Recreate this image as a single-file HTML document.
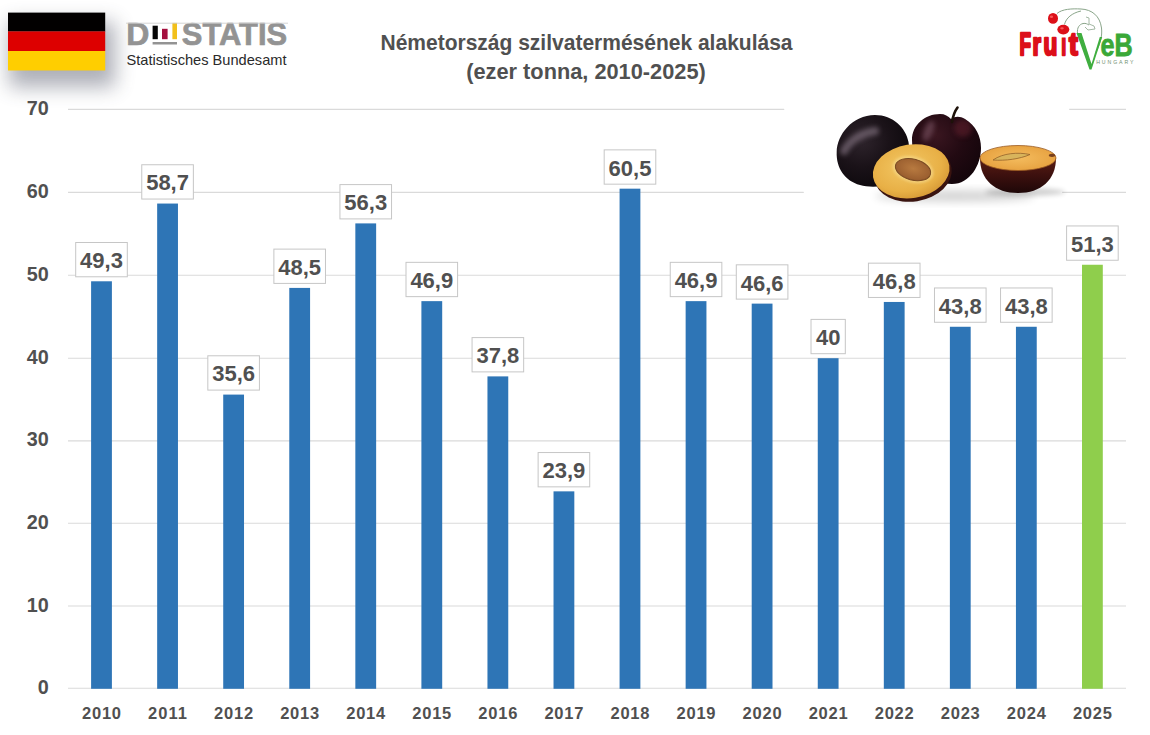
<!DOCTYPE html>
<html><head><meta charset="utf-8"><title>Németország szilvatermésének alakulása</title>
<style>
html,body{margin:0;padding:0;background:#fff;width:1150px;height:735px;overflow:hidden}
svg{display:block}
.yl{font-family:"Liberation Sans",sans-serif;font-weight:bold;font-size:19.8px;fill:#505050;text-anchor:end}
.xl{font-family:"Liberation Sans",sans-serif;font-weight:bold;font-size:16.5px;fill:#505050;text-anchor:middle}
.dl{font-family:"Liberation Sans",sans-serif;font-weight:bold;font-size:22px;fill:#505050;text-anchor:middle}
.ttl{font-family:"Liberation Sans",sans-serif;font-weight:bold;font-size:22.5px;fill:#505050;text-anchor:middle}
</style></head><body>
<svg width="1150" height="735" viewBox="0 0 1150 735">
<defs>
<filter id="fsh" x="-50%" y="-50%" width="200%" height="200%"><feGaussianBlur stdDeviation="10"/></filter>
<filter id="b1" x="-50%" y="-50%" width="200%" height="200%"><feGaussianBlur stdDeviation="1"/></filter>
<filter id="b2" x="-50%" y="-50%" width="200%" height="200%"><feGaussianBlur stdDeviation="2.5"/></filter>
<filter id="b4" x="-50%" y="-50%" width="200%" height="200%"><feGaussianBlur stdDeviation="4"/></filter>
<clipPath id="cA"><path d="M875,115 C893,115 906,128 908.5,142 C911,158 905,175 890,183 C880,188 868,187 860,185 C845,181 836,168 836.7,152 C837,135 852,115 875,115 Z"/></clipPath>
<clipPath id="cB"><path d="M912,140 C912,125 925,114 940,114 C945,114 948,116 951,119 C955,116 960,116 965,119 C976,126 981,136 981,148 C981,165 970,184 952,184 C930,184 912,165 912,140 Z"/></clipPath>
<radialGradient id="gA" cx="0.35" cy="0.35" r="0.75">
 <stop offset="0" stop-color="#2e242c"/><stop offset="0.5" stop-color="#1a1218"/><stop offset="1" stop-color="#0b070b"/>
</radialGradient>
<radialGradient id="gB" cx="0.35" cy="0.3" r="0.8">
 <stop offset="0" stop-color="#3a1620"/><stop offset="0.5" stop-color="#220a12"/><stop offset="1" stop-color="#12050a"/>
</radialGradient>
<radialGradient id="gC" cx="0.45" cy="0.4" r="0.65">
 <stop offset="0" stop-color="#f3c865"/><stop offset="0.7" stop-color="#e8b046"/><stop offset="1" stop-color="#d49634"/>
</radialGradient>
<radialGradient id="gPit" cx="0.5" cy="0.45" r="0.6">
 <stop offset="0" stop-color="#b87a40"/><stop offset="0.8" stop-color="#9c6030"/><stop offset="1" stop-color="#7a4622"/>
</radialGradient>
<linearGradient id="gDs" x1="0" y1="0" x2="0" y2="1">
 <stop offset="0" stop-color="#5a1c14"/><stop offset="0.5" stop-color="#3c100e"/><stop offset="1" stop-color="#1e0708"/>
</linearGradient>
<radialGradient id="gDf" cx="0.5" cy="0.5" r="0.6">
 <stop offset="0" stop-color="#f4bc5e"/><stop offset="1" stop-color="#e59e3c"/>
</radialGradient>
</defs>
<rect width="1150" height="735" fill="#fff"/>
<!-- flag shadow -->
<rect x="9" y="22" width="106" height="65" fill="#3c4256" opacity="0.42" filter="url(#fsh)"/>
<rect x="8" y="12.6" width="97.2" height="19" fill="#020000"/>
<rect x="8" y="31.4" width="97.2" height="19.6" fill="#DD0000"/>
<rect x="8" y="51" width="97.2" height="19.5" fill="#FFCE00"/>
<g font-family="Liberation Sans, sans-serif">
<text x="126.2" y="44.8" font-weight="bold" font-size="32" fill="#939393" stroke="#939393" stroke-width="0.7">D</text>
<rect x="152.6" y="25.7" width="5.2" height="13.5" fill="#050505"/>
<rect x="162" y="28.8" width="5.6" height="10.4" fill="#A5103F"/>
<rect x="172.4" y="22.9" width="4.6" height="16.3" fill="#F2C01A"/>
<rect x="152.6" y="42" width="24.4" height="2.5" fill="#939393"/>
<text x="181.8" y="44.8" font-weight="bold" font-size="32" fill="#939393" stroke="#939393" stroke-width="0.7" textLength="105.3" lengthAdjust="spacingAndGlyphs">STATIS</text>
<line x1="126" y1="23.2" x2="288" y2="23.2" stroke="#cfcfcf" stroke-width="0.9"/>
<text x="126.5" y="64.7" font-size="15" fill="#2a2a2a" textLength="160" lengthAdjust="spacingAndGlyphs">Statistisches Bundesamt</text>
</g>
<text x="586.5" y="50" class="ttl" textLength="412" lengthAdjust="spacingAndGlyphs">Németország szilvatermésének alakulása</text>
<text x="586" y="79.1" class="ttl" textLength="239.5" lengthAdjust="spacingAndGlyphs">(ezer tonna, 2010-2025)</text>
<g>
<path d="M1057,13.5 C1062,9 1072,8.5 1081,9 C1092,9.5 1100,16 1101.5,28 C1102.5,36 1100,44 1096,52" fill="none" stroke="#8aa58a" stroke-width="1"/>
<path d="M1064.5,24.5 C1066,18 1072,13 1081,11" fill="none" stroke="#8aa58a" stroke-width="1"/>
<path d="M1077.5,33 C1077,28 1079,24.5 1083,23.5 C1086,23 1087,24 1089,25" fill="none" stroke="#8aa58a" stroke-width="1"/>
<path d="M1086,17 L1089,18 L1089,24 L1094,26 L1095,29 L1088,30 L1085,27" fill="none" stroke="#9ab09a" stroke-width="0.9"/>
<ellipse cx="1053" cy="18.4" rx="5" ry="5.4" fill="#dc1019"/>
<ellipse cx="1063.3" cy="29.6" rx="6" ry="4.8" fill="#dc1019"/>
<ellipse cx="1051.5" cy="16.8" rx="1.6" ry="1.2" fill="#ff6a6a" opacity="0.8"/>
<ellipse cx="1062" cy="28.3" rx="1.8" ry="1.1" fill="#ff6a6a" opacity="0.8"/>
<clipPath id="ci"><rect x="1000" y="0" width="61" height="80"/><rect x="1068.3" y="0" width="40" height="80"/><rect x="1000" y="37.6" width="100" height="40"/></clipPath>
<text y="55.2" font-family="Liberation Sans, sans-serif" font-weight="bold" font-size="31" fill="#dc0f1a" stroke="#dc0f1a" stroke-width="2.5" stroke-linejoin="round" clip-path="url(#ci)"><tspan x="1019.5" textLength="11.5" lengthAdjust="spacingAndGlyphs">F</tspan><tspan x="1032.5" textLength="8.5" lengthAdjust="spacingAndGlyphs">r</tspan><tspan x="1043.5" textLength="13.8" lengthAdjust="spacingAndGlyphs">u</tspan><tspan x="1061.3" textLength="5" lengthAdjust="spacingAndGlyphs">i</tspan><tspan x="1069" textLength="8.8" lengthAdjust="spacingAndGlyphs">t</tspan></text>
<path d="M1076.5,33 L1081.5,33 L1091.5,64 L1099.8,37 L1102.2,37 L1091.5,69.5 L1089.5,69.5 Z" fill="#3fae3f"/>
<text x="1100.5" y="55.6" font-family="Liberation Sans, sans-serif" font-weight="bold" font-size="32" fill="#3aa838" stroke="#3aa838" stroke-width="0.8" textLength="32.2" lengthAdjust="spacingAndGlyphs">eB</text>
<text x="1096.2" y="63.9" font-family="Liberation Sans, sans-serif" font-size="5.2" fill="#6f8f70" textLength="37.3" lengthAdjust="spacing">HUNGARY</text>
</g>
<line x1="68" y1="688.3" x2="1126" y2="688.3" stroke="#dadada" stroke-width="1.1"/>
<line x1="68" y1="606.0" x2="1126" y2="606.0" stroke="#dadada" stroke-width="1.1"/>
<line x1="68" y1="523.2" x2="1126" y2="523.2" stroke="#dadada" stroke-width="1.1"/>
<line x1="68" y1="440.9" x2="1126" y2="440.9" stroke="#dadada" stroke-width="1.1"/>
<line x1="68" y1="358.3" x2="1126" y2="358.3" stroke="#dadada" stroke-width="1.1"/>
<line x1="68" y1="275.2" x2="1126" y2="275.2" stroke="#dadada" stroke-width="1.1"/>
<line x1="68" y1="192.4" x2="1126" y2="192.4" stroke="#dadada" stroke-width="1.1"/>
<line x1="68" y1="109.4" x2="1126" y2="109.4" stroke="#dadada" stroke-width="1.1"/>
<text x="48.8" y="693.8" class="yl">0</text>
<text x="48.8" y="611.5" class="yl">10</text>
<text x="48.8" y="528.7" class="yl">20</text>
<text x="48.8" y="446.4" class="yl">30</text>
<text x="48.8" y="363.8" class="yl">40</text>
<text x="48.8" y="280.7" class="yl">50</text>
<text x="48.8" y="197.9" class="yl">60</text>
<text x="48.8" y="114.9" class="yl">70</text>
<rect x="91.10" y="281.29" width="20.8" height="407.51" fill="#2E75B6"/>
<text x="101.50" y="719" class="xl" textLength="39" lengthAdjust="spacing">2010</text>
<rect x="75.70" y="242.49" width="51.60" height="34.3" fill="#fff" stroke="#c6c6c6" stroke-width="1"/>
<text x="101.50" y="268.19" class="dl">49,3</text>
<rect x="157.16" y="203.55" width="20.8" height="485.25" fill="#2E75B6"/>
<text x="167.56" y="719" class="xl" textLength="39" lengthAdjust="spacing">2011</text>
<rect x="141.76" y="164.75" width="51.60" height="34.3" fill="#fff" stroke="#c6c6c6" stroke-width="1"/>
<text x="167.56" y="190.45" class="dl">58,7</text>
<rect x="223.22" y="394.59" width="20.8" height="294.21" fill="#2E75B6"/>
<text x="233.62" y="719" class="xl" textLength="39" lengthAdjust="spacing">2012</text>
<rect x="207.82" y="355.79" width="51.60" height="34.3" fill="#fff" stroke="#c6c6c6" stroke-width="1"/>
<text x="233.62" y="381.49" class="dl">35,6</text>
<rect x="289.28" y="287.91" width="20.8" height="400.89" fill="#2E75B6"/>
<text x="299.68" y="719" class="xl" textLength="39" lengthAdjust="spacing">2013</text>
<rect x="273.88" y="249.11" width="51.60" height="34.3" fill="#fff" stroke="#c6c6c6" stroke-width="1"/>
<text x="299.68" y="274.81" class="dl">48,5</text>
<rect x="355.34" y="223.40" width="20.8" height="465.40" fill="#2E75B6"/>
<text x="365.74" y="719" class="xl" textLength="39" lengthAdjust="spacing">2014</text>
<rect x="339.94" y="184.60" width="51.60" height="34.3" fill="#fff" stroke="#c6c6c6" stroke-width="1"/>
<text x="365.74" y="210.30" class="dl">56,3</text>
<rect x="421.40" y="301.14" width="20.8" height="387.66" fill="#2E75B6"/>
<text x="431.80" y="719" class="xl" textLength="39" lengthAdjust="spacing">2015</text>
<rect x="406.00" y="262.34" width="51.60" height="34.3" fill="#fff" stroke="#c6c6c6" stroke-width="1"/>
<text x="431.80" y="288.04" class="dl">46,9</text>
<rect x="487.46" y="376.39" width="20.8" height="312.41" fill="#2E75B6"/>
<text x="497.86" y="719" class="xl" textLength="39" lengthAdjust="spacing">2016</text>
<rect x="472.06" y="337.59" width="51.60" height="34.3" fill="#fff" stroke="#c6c6c6" stroke-width="1"/>
<text x="497.86" y="363.29" class="dl">37,8</text>
<rect x="553.52" y="491.35" width="20.8" height="197.45" fill="#2E75B6"/>
<text x="563.92" y="719" class="xl" textLength="39" lengthAdjust="spacing">2017</text>
<rect x="538.12" y="452.55" width="51.60" height="34.3" fill="#fff" stroke="#c6c6c6" stroke-width="1"/>
<text x="563.92" y="478.25" class="dl">23,9</text>
<rect x="619.58" y="188.67" width="20.8" height="500.13" fill="#2E75B6"/>
<text x="629.98" y="719" class="xl" textLength="39" lengthAdjust="spacing">2018</text>
<rect x="604.18" y="149.87" width="51.60" height="34.3" fill="#fff" stroke="#c6c6c6" stroke-width="1"/>
<text x="629.98" y="175.57" class="dl">60,5</text>
<rect x="685.64" y="301.14" width="20.8" height="387.66" fill="#2E75B6"/>
<text x="696.04" y="719" class="xl" textLength="39" lengthAdjust="spacing">2019</text>
<rect x="670.24" y="262.34" width="51.60" height="34.3" fill="#fff" stroke="#c6c6c6" stroke-width="1"/>
<text x="696.04" y="288.04" class="dl">46,9</text>
<rect x="751.70" y="303.62" width="20.8" height="385.18" fill="#2E75B6"/>
<text x="762.10" y="719" class="xl" textLength="39" lengthAdjust="spacing">2020</text>
<rect x="736.30" y="264.82" width="51.60" height="34.3" fill="#fff" stroke="#c6c6c6" stroke-width="1"/>
<text x="762.10" y="290.52" class="dl">46,6</text>
<rect x="817.76" y="358.20" width="20.8" height="330.60" fill="#2E75B6"/>
<text x="828.16" y="719" class="xl" textLength="39" lengthAdjust="spacing">2021</text>
<rect x="811.01" y="319.40" width="34.30" height="34.3" fill="#fff" stroke="#c6c6c6" stroke-width="1"/>
<text x="828.16" y="345.10" class="dl">40</text>
<rect x="883.82" y="301.96" width="20.8" height="386.84" fill="#2E75B6"/>
<text x="894.22" y="719" class="xl" textLength="39" lengthAdjust="spacing">2022</text>
<rect x="868.42" y="263.16" width="51.60" height="34.3" fill="#fff" stroke="#c6c6c6" stroke-width="1"/>
<text x="894.22" y="288.86" class="dl">46,8</text>
<rect x="949.88" y="326.77" width="20.8" height="362.03" fill="#2E75B6"/>
<text x="960.28" y="719" class="xl" textLength="39" lengthAdjust="spacing">2023</text>
<rect x="934.48" y="287.97" width="51.60" height="34.3" fill="#fff" stroke="#c6c6c6" stroke-width="1"/>
<text x="960.28" y="313.67" class="dl">43,8</text>
<rect x="1015.94" y="326.77" width="20.8" height="362.03" fill="#2E75B6"/>
<text x="1026.34" y="719" class="xl" textLength="39" lengthAdjust="spacing">2024</text>
<rect x="1000.54" y="287.97" width="51.60" height="34.3" fill="#fff" stroke="#c6c6c6" stroke-width="1"/>
<text x="1026.34" y="313.67" class="dl">43,8</text>
<rect x="1082.00" y="264.75" width="20.8" height="424.05" fill="#8FCE4C"/>
<text x="1092.40" y="719" class="xl" textLength="39" lengthAdjust="spacing">2025</text>
<rect x="1066.60" y="225.95" width="51.60" height="34.3" fill="#fff" stroke="#c6c6c6" stroke-width="1"/>
<text x="1092.40" y="251.65" class="dl">51,3</text>
<g>
<polygon points="782,100 1070,100 1061,206 807,206" fill="#fff"/>
<ellipse cx="955" cy="196" rx="80" ry="6" fill="#000" opacity="0.16" filter="url(#b4)"/>
<ellipse cx="1025" cy="192" rx="40" ry="4" fill="#000" opacity="0.18" filter="url(#b2)"/>
<!-- plum A -->
<path d="M875,115 C893,115 906,128 908.5,142 C911,158 905,175 890,183 C880,188 868,187 860,185 C845,181 836,168 836.7,152 C837,135 852,115 875,115 Z" fill="url(#gA)"/>
<g clip-path="url(#cA)"><path d="M844,151 C850,140 862,133 875,131" fill="none" stroke="#8a7a88" stroke-width="8" stroke-linecap="round" opacity="0.6" filter="url(#b2)"/></g>
<!-- plum B -->
<path d="M912,140 C912,125 925,114 940,114 C945,114 948,116 951,119 C955,116 960,116 965,119 C976,126 981,136 981,148 C981,165 970,184 952,184 C930,184 912,165 912,140 Z" fill="url(#gB)"/>
<g clip-path="url(#cB)"><ellipse cx="928.5" cy="131" rx="4.5" ry="11" transform="rotate(22 928.5 131)" fill="#7e5666" opacity="0.6" filter="url(#b2)"/>
<ellipse cx="963" cy="128" rx="9" ry="9" fill="#6a2030" opacity="0.5" filter="url(#b2)"/></g>
<path d="M952,122 C953,116 954.5,111.5 957.5,107.5" fill="none" stroke="#1e120a" stroke-width="2.6" stroke-linecap="round"/>
<!-- half D -->
<path d="M980,158 C980,180 995,193 1018,193 C1041,193 1056,180 1056,158 Z" fill="url(#gDs)"/>
<ellipse cx="1018" cy="158" rx="38" ry="12.5" fill="url(#gDf)" stroke="#9a5a22" stroke-width="0.8"/>
<path d="M993,160 C1003,153 1018,152 1030,154.5 C1020,159 1005,161 993,160 Z" fill="#d8b45c" stroke="#94622a" stroke-width="0.8"/>
<ellipse cx="1052" cy="155.3" rx="3.2" ry="1.6" fill="#5a2410" opacity="0.8"/>
<!-- half C -->
<ellipse cx="913" cy="174" rx="39" ry="27.5" transform="rotate(-9 913 174)" fill="#3a1410"/>
<ellipse cx="911.2" cy="171.3" rx="38.6" ry="26.8" transform="rotate(-9 911.2 171.3)" fill="url(#gC)"/>
<ellipse cx="913" cy="169.6" rx="21" ry="13" transform="rotate(15 913 169.6)" fill="#f6d888" opacity="0.7" filter="url(#b1)"/>
<ellipse cx="913" cy="169.6" rx="18" ry="10.5" transform="rotate(15 913 169.6)" fill="url(#gPit)" stroke="#7a4a22" stroke-width="1"/>
</g>
</svg>
</body></html>
